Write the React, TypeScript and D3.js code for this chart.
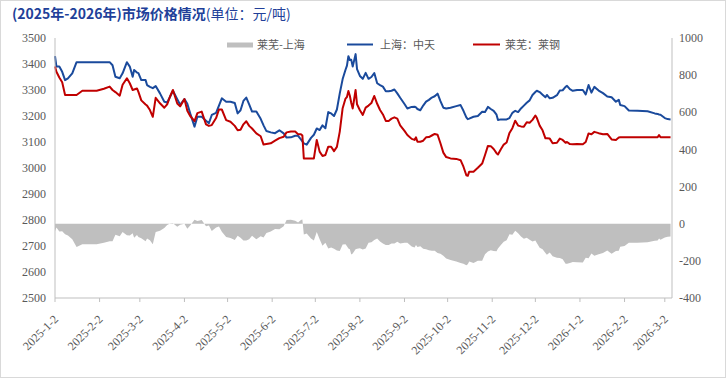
import React, { useEffect } from "react";
import * as d3 from "d3";

const W = 726;
const H = 378;

const titleMain = "(2025年-2026年)市场价格情况";
const titleUnit = "(单位：元/吨)";
const seriesNames = ["莱芜-上海", "上海：中天", "莱芜：莱钢"];

const axisStart = "2025-01-02";
const axisEnd = "2026-03-07";

const dates = [
  "2025-01-02","2025-01-03","2025-01-05","2025-01-07","2025-01-09","2025-01-11","2025-01-14","2025-01-17","2025-01-21","2025-01-26",
  "2025-01-31","2025-02-05","2025-02-09","2025-02-11","2025-02-13","2025-02-16","2025-02-18","2025-02-21","2025-02-23","2025-02-25",
  "2025-02-26","2025-02-28","2025-03-01","2025-03-03","2025-03-06","2025-03-07","2025-03-09","2025-03-11","2025-03-13","2025-03-16",
  "2025-03-19","2025-03-21","2025-03-23","2025-03-25","2025-03-28","2025-03-30","2025-04-02","2025-04-04","2025-04-06","2025-04-09",
  "2025-04-11","2025-04-14","2025-04-17","2025-04-19","2025-04-21","2025-04-24","2025-04-26","2025-04-28","2025-05-01","2025-05-04",
  "2025-05-07","2025-05-09","2025-05-11","2025-05-13","2025-05-15","2025-05-17","2025-05-19","2025-05-22","2025-05-25","2025-05-27",
  "2025-05-29","2025-06-01","2025-06-04","2025-06-07","2025-06-10","2025-06-12","2025-06-15","2025-06-18","2025-06-20","2025-06-22",
  "2025-06-23","2025-06-24","2025-06-26","2025-06-29","2025-07-01","2025-07-03","2025-07-05","2025-07-07","2025-07-09","2025-07-11",
  "2025-07-13","2025-07-15","2025-07-17","2025-07-19","2025-07-21","2025-07-23","2025-07-24","2025-07-25","2025-07-26","2025-07-27",
  "2025-07-28","2025-07-30","2025-07-31","2025-08-02","2025-08-04","2025-08-06","2025-08-08","2025-08-10","2025-08-12","2025-08-14",
  "2025-08-16","2025-08-18","2025-08-20","2025-08-22","2025-08-24","2025-08-26","2025-08-28","2025-08-30","2025-09-02","2025-09-04",
  "2025-09-07","2025-09-09","2025-09-10","2025-09-11","2025-09-13","2025-09-15","2025-09-17","2025-09-19","2025-09-21","2025-09-23",
  "2025-09-25","2025-09-27","2025-09-29","2025-10-01","2025-10-04","2025-10-08","2025-10-11","2025-10-13","2025-10-15","2025-10-16",
  "2025-10-17","2025-10-20","2025-10-23","2025-10-26","2025-10-28","2025-10-30","2025-11-01","2025-11-03","2025-11-05","2025-11-06",
  "2025-11-08","2025-11-10","2025-11-12","2025-11-14","2025-11-16","2025-11-18","2025-11-20","2025-11-22","2025-11-24","2025-11-26",
  "2025-11-28","2025-11-30","2025-12-02","2025-12-03","2025-12-05","2025-12-07","2025-12-09","2025-12-10","2025-12-12","2025-12-14",
  "2025-12-17","2025-12-19","2025-12-21","2025-12-23","2025-12-24","2025-12-26","2025-12-28","2025-12-31","2026-01-04","2026-01-06",
  "2026-01-08","2026-01-10","2026-01-12","2026-01-15","2026-01-18","2026-01-21","2026-01-24","2026-01-27","2026-01-29","2026-01-30",
  "2026-02-02","2026-02-05","2026-02-11","2026-02-18","2026-02-23","2026-02-25","2026-02-26","2026-02-27","2026-03-02","2026-03-04",
  "2026-03-06",
];

// 上海：中天
const zhongtian = [
  3430,3390,3390,3370,3338,3345,3364,3407,3407,3407,
  3407,3407,3407,3395,3351,3345,3364,3407,3390,3351,
  3377,3367,3365,3338,3338,3319,3312,3307,3315,3287,
  3255,3252,3274,3297,3265,3243,3265,3247,3210,3159,
  3197,3197,3182,3172,3204,3212,3240,3268,3255,3255,
  3250,3210,3222,3258,3271,3245,3217,3217,3189,3164,
  3142,3137,3134,3145,3133,3117,3118,3124,3124,3110,
  3102,3095,3090,3116,3128,3152,3146,3164,3153,3215,
  3210,3200,3225,3287,3342,3378,3394,3430,3415,3416,
  3390,3438,3380,3354,3343,3366,3343,3350,3365,3326,
  3319,3313,3295,3295,3297,3302,3287,3270,3246,3229,
  3235,3236,3233,3227,3222,3240,3255,3262,3271,3276,
  3286,3257,3232,3229,3232,3238,3242,3220,3195,3188,
  3190,3197,3200,3216,3215,3235,3227,3220,3205,3185,
  3187,3187,3187,3192,3212,3220,3215,3229,3240,3251,
  3260,3281,3292,3297,3292,3282,3272,3281,3268,3270,
  3280,3298,3299,3312,3316,3303,3297,3300,3300,3283,
  3319,3290,3312,3298,3288,3275,3272,3255,3262,3242,
  3238,3221,3220,3218,3210,3208,3206,3205,3192,3188,
  3187,
];

// 莱芜：莱钢
const laigang = [
  3390,3370,3348,3330,3281,3281,3281,3281,3297,3297,
  3297,3305,3313,3300,3292,3278,3320,3345,3326,3300,
  3302,3306,3293,3260,3244,3240,3223,3197,3270,3249,
  3232,3245,3275,3300,3248,3237,3265,3220,3200,3180,
  3211,3217,3168,3162,3165,3192,3225,3225,3184,3178,
  3162,3145,3147,3168,3180,3162,3152,3133,3122,3090,
  3092,3095,3105,3115,3120,3137,3140,3140,3130,3130,
  3125,3037,3037,3037,3037,3108,3063,3046,3050,3082,
  3082,3065,3081,3140,3230,3267,3273,3296,3278,3250,
  3229,3300,3245,3222,3204,3232,3240,3250,3277,3247,
  3223,3206,3181,3181,3190,3195,3190,3164,3143,3127,
  3112,3108,3118,3101,3101,3105,3118,3119,3125,3131,
  3128,3095,3059,3042,3037,3035,3030,3005,2972,2970,
  2986,2986,3001,3017,3050,3085,3084,3073,3057,3052,
  3072,3090,3098,3135,3153,3182,3163,3160,3159,3176,
  3174,3185,3202,3193,3163,3145,3114,3114,3113,3095,
  3097,3113,3108,3097,3100,3092,3091,3092,3091,3100,
  3133,3130,3139,3134,3130,3131,3110,3108,3117,3118,
  3118,3118,3118,3118,3118,3118,3127,3118,3118,3118,
  3118,
];

// 莱芜-上海 (right axis)
const spread = [
  -40,-20,-42,-40,-57,-64,-83,-126,-110,-110,
  -110,-102,-94,-95,-59,-67,-44,-62,-64,-51,
  -75,-61,-72,-78,-94,-79,-89,-110,-45,-38,
  -23,-7,1,3,-17,-6,0,-27,-10,21,
  14,20,-14,-10,-39,-20,-15,-43,-71,-77,
  -88,-65,-75,-90,-91,-83,-65,-84,-67,-74,
  -50,-42,-29,-30,-13,20,22,16,6,20,
  23,-58,-53,-79,-91,-44,-83,-118,-103,-133,
  -128,-135,-144,-147,-112,-111,-121,-134,-137,-166,
  -161,-138,-135,-132,-139,-134,-103,-100,-88,-79,
  -96,-107,-114,-114,-107,-107,-97,-106,-103,-102,
  -123,-128,-115,-126,-121,-135,-137,-143,-146,-145,
  -158,-162,-173,-187,-195,-203,-212,-215,-223,-218,
  -204,-211,-199,-199,-165,-150,-143,-147,-148,-133,
  -115,-97,-89,-57,-59,-38,-52,-69,-81,-75,
  -86,-96,-90,-104,-129,-137,-158,-167,-155,-175,
  -183,-185,-191,-215,-216,-211,-206,-208,-209,-183,
  -186,-160,-173,-164,-158,-144,-162,-147,-145,-124,
  -120,-103,-102,-100,-92,-90,-79,-87,-74,-70,
  -69,
];

const xTickLabels = [
  "2025-1-2","2025-2-2","2025-3-2","2025-4-2","2025-5-2","2025-6-2","2025-7-2",
  "2025-8-2","2025-9-2","2025-10-2","2025-11-2","2025-12-2","2026-1-2","2026-2-2","2026-3-2",
];
const leftTicks = [2500, 2600, 2700, 2800, 2900, 3000, 3100, 3200, 3300, 3400, 3500];
const rightTicks = [-400, -200, 0, 200, 400, 600, 800, 1000];

const parseDate = d3.timeParse("%Y-%m-%d");
const parseLabel = (s: string) => {
  const [y, m, d] = s.split("-").map(Number);
  return new Date(y, m - 1, d);
};

const BLUE = "#1A4A9C";
const RED = "#C00000";
const GREY = "#BFBFBF";
const AXIS = "#BFBFBF";
const TXT = "#595959";
const CJK = "'Noto Sans CJK SC', 'Noto Sans', sans-serif";
const SERIF = "'Liberation Serif', 'DejaVu Serif', serif";

export default function App() {
  useEffect(() => {
    document.body.style.margin = "0";
  }, []);

  const left = 55, right = 672, top = 38, bottom = 298;
  const x = d3.scaleTime().domain([parseDate(axisStart)!, parseDate(axisEnd)!]).range([left, right]);
  const yL = d3.scaleLinear().domain([2500, 3500]).range([bottom, top]);
  const yR = d3.scaleLinear().domain([-400, 1000]).range([bottom, top]);

  const pts = dates.map((d, i) => ({
    t: parseDate(d)!,
    zt: zhongtian[i],
    lg: laigang[i],
    sp: spread[i],
  }));

  const area = d3
    .area<typeof pts[0]>()
    .x((d) => x(d.t))
    .y0(() => yR(0))
    .y1((d) => yR(d.sp));
  const lineZ = d3.line<typeof pts[0]>().x((d) => x(d.t)).y((d) => yL(d.zt));
  const lineL = d3.line<typeof pts[0]>().x((d) => x(d.t)).y((d) => yL(d.lg));

  return (
    <svg width={W} height={H} style={{ position: "absolute", left: 0, top: 0, background: "#fff" }}>
      <rect x={0.5} y={0.5} width={W - 1} height={H - 1} fill="#fff" stroke="#D9D9D9" />
      <text x={12} y={19} fill="#213F99" fontFamily={CJK} fontSize={14} fontWeight="bold">
        {titleMain}
        <tspan fontWeight="normal">{titleUnit}</tspan>
      </text>

      {/* series */}
      <path d={area(pts) || ""} fill={GREY} />
      <path d={lineZ(pts) || ""} fill="none" stroke={BLUE} strokeWidth={2} strokeLinejoin="round" />
      <path d={lineL(pts) || ""} fill="none" stroke={RED} strokeWidth={2} strokeLinejoin="round" />

      {/* axes */}
      <line x1={left} x2={left} y1={top} y2={bottom} stroke={AXIS} />
      <line x1={right} x2={right} y1={top} y2={bottom} stroke={AXIS} />
      <line x1={left} x2={right} y1={bottom} y2={bottom} stroke={AXIS} />

      {leftTicks.map((v) => (
        <text key={"l" + v} x={46} y={yL(v)} dy="0.35em" textAnchor="end" fill={TXT} fontFamily={SERIF} fontSize={12}>
          {v}
        </text>
      ))}
      {rightTicks.map((v) => (
        <text key={"r" + v} x={679} y={yR(v)} dy="0.35em" textAnchor="start" fill={TXT} fontFamily={SERIF} fontSize={12}>
          {v}
        </text>
      ))}
      {xTickLabels.map((s) => {
        const tx = x(parseLabel(s));
        return (
          <g key={s}>
            <line x1={tx} x2={tx} y1={bottom} y2={bottom + 4} stroke={AXIS} />
            <text
              transform={`translate(${tx + 1},${bottom + 19}) rotate(-45)`}
              dy="0.35em"
              textAnchor="end"
              fill={TXT}
              fontFamily={SERIF}
              fontSize={12}
            >
              {s}
            </text>
          </g>
        );
      })}

      {/* legend */}
      <rect x={227} y={42.5} width={26} height={5} fill={GREY} />
      <text x={257} y={45} dy="0.35em" fill={TXT} fontFamily={CJK} fontSize={11}>{seriesNames[0]}</text>
      <line x1={347} x2={373} y1={44.5} y2={44.5} stroke={BLUE} strokeWidth={2} />
      <text x={380} y={45} dy="0.35em" fill={TXT} fontFamily={CJK} fontSize={11}>{seriesNames[1]}</text>
      <line x1={473} x2={500} y1={44.5} y2={44.5} stroke={RED} strokeWidth={2} />
      <text x={505} y={45} dy="0.35em" fill={TXT} fontFamily={CJK} fontSize={11}>{seriesNames[2]}</text>
    </svg>
  );
}
